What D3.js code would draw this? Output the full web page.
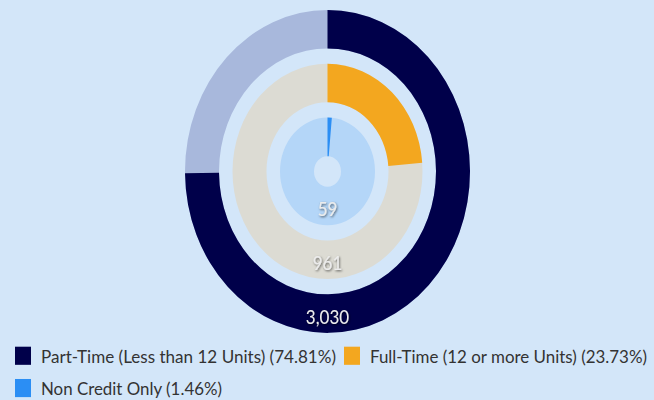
<!DOCTYPE html>
<meta charset="utf-8">
<style>

body {
  margin: 0;
  background-color: #d3e6f9;
  overflow: hidden;
}

text {
  font-family: Lato, "Open Sans", sans-serif;
}

</style>
<body>

<script src="https://cdn.jsdelivr.net/npm/d3@7"></script>
<script>
var categories = ["Part-Time (Less than 12 Units)", "Full-Time (12 or more Units)", "Non Credit Only"];
var values = [3030, 961, 59];
var colors = ["#00004a", "#f3a71f", "#2b8ef4"];
var trackColors = ["#a8b8dc", "#dcdbd3", "#b4d6f8"];

var width = 654,
    height = 400,
    sy = 1.133; // the picture is a little taller than it is wide

var total = d3.sum(values);

var svg = d3.select("body").append("svg")
    .attr("width", width)
    .attr("height", height);

var defs = svg.append("defs");
defs.append("filter")
    .attr("id", "shadow")
    .attr("x", "-20%").attr("y", "-20%")
    .attr("width", "140%").attr("height", "160%")
  .append("feDropShadow")
    .attr("dx", 0.8)
    .attr("dy", 1)
    .attr("stdDeviation", 0.8)
    .attr("flood-color", "#000")
    .attr("flood-opacity", 0.6);

var g = svg.append("g")
    .attr("transform", "scale(1," + sy + ")");

var chart = g.append("g")
    .attr("transform", "translate(327.5,151.3)");

// ring 0 is the outer one
var band = 34, gap = 13.5, hole = 13.5;
function inner(i) { return hole + (values.length - 1 - i) * (band + gap); }

var angle = d3.scaleLinear()
    .domain([0, total])
    .range([0, 2 * Math.PI]);

var arc = d3.arc();

var rings = chart.selectAll("g.ring")
    .data(values)
  .enter().append("g")
    .attr("class", "ring");

rings.append("path")
    .attr("fill", function(d, i) { return trackColors[i]; })
    .attr("d", function(d, i) {
      return arc({innerRadius: inner(i), outerRadius: inner(i) + band, startAngle: 0, endAngle: 2 * Math.PI});
    });

rings.append("path")
    .attr("fill", function(d, i) { return colors[i]; })
    .attr("d", function(d, i) {
      return arc({innerRadius: inner(i), outerRadius: inner(i) + band, startAngle: 0, endAngle: angle(d)});
    });

rings.append("text")
    .attr("x", 0)
    .attr("y", function(d, i) { return inner(i) + band / 2 + 2.5; })
    .attr("text-anchor", "middle")
    .attr("dominant-baseline", "central")
    .attr("fill", "#ececec")
    .attr("filter", "url(#shadow)")
    .style("font-size", "17px")
    .text(function(d) { return d3.format(",")(d); });

// legend
var legendPos = [[15, 306], [344, 306], [15, 334.5]];
var legendWidth = [295, 277, 181];

var legend = g.selectAll("g.legend")
    .data(categories)
  .enter().append("g")
    .attr("class", "legend")
    .attr("transform", function(d, i) { return "translate(" + legendPos[i] + ")"; });

legend.append("rect")
    .attr("width", 16)
    .attr("height", 16)
    .attr("fill", function(d, i) { return colors[i]; });

legend.append("text")
    .attr("x", 26)
    .attr("y", 14)
    .attr("fill", "#333")
    .attr("textLength", function(d, i) { return legendWidth[i]; })
    .attr("lengthAdjust", "spacingAndGlyphs")
    .style("font-size", "15px")
    .text(function(d, i) {
      return d + " (" + d3.format(".2f")(values[i] / total * 100) + "%)";
    });

</script>
